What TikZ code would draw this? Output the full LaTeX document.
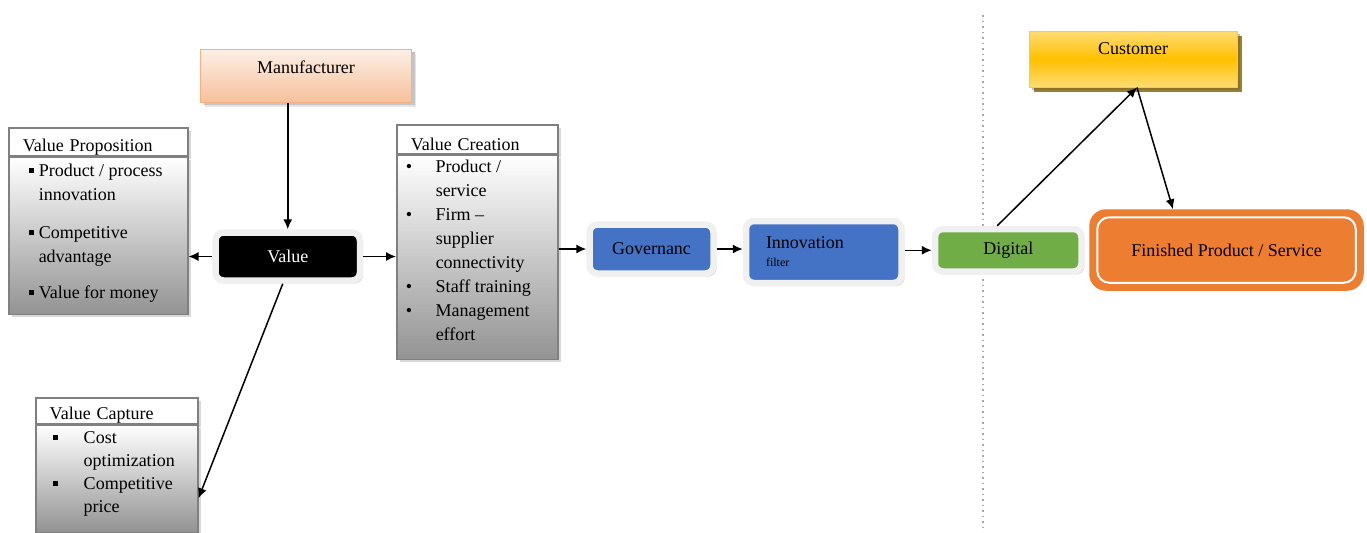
\documentclass[tikz,border=0pt]{standalone}
\usepackage{fontspec}
\setmainfont{Liberation Serif}
\usetikzlibrary{positioning,arrows.meta,shadows}
\tikzset{>={Latex[length=5pt,width=4.5pt]}}
\definecolor{peach}{HTML}{F4B183}
\definecolor{blu}{HTML}{4472C4}
\definecolor{grn}{HTML}{70AD47}
\definecolor{orng}{HTML}{ED7D31}
\definecolor{yel}{HTML}{FFC000}
\newcommand{\sqb}{\rule[1.8pt]{2.6pt}{2.6pt}}

\begin{document}
\begin{tikzpicture}[x=0.5pt, y=-0.5pt, font=\fontsize{9}{12}\selectfont, line width=0.75pt,
    head/.style={draw=gray, fill=white, inner xsep=7pt, inner ysep=0pt, align=left, anchor=north west,
      text height=11.5pt, drop shadow={shadow xshift=1.5pt, shadow yshift=-1.5pt, fill=gray!60}},
    listbody/.style={draw=gray, top color=white, bottom color=gray!85, inner sep=0pt,
      drop shadow={shadow xshift=1.5pt, shadow yshift=-1.5pt, fill=gray!60}},
    framed/.style={draw=gray!12, line width=3.25pt, rounded corners=4pt, inner sep=0pt,
      drop shadow={shadow xshift=1.5pt, shadow yshift=-1.5pt, fill=gray!55}},
    plain/.style={line width=0.5pt, inner sep=0pt, drop shadow={shadow xshift=1.5pt, shadow yshift=-1.5pt}}]
  \useasboundingbox (0,0) rectangle (1367,532);
  \draw[gray!70, dotted] (983,15) -- (983,532); %divider

  \node[plain, draw=peach, top color=peach!20, bottom color=peach!80, drop shadow={fill=gray!40},
    minimum width=105.5pt, minimum height=26.5pt, text depth=8pt] (man) at (306,75.5) {Manufacturer};

  \node[head, text width=75.5pt, minimum height=14pt] (vph) at (8,127) {Value Proposition};
  \node[listbody, minimum width=89.5pt, minimum height=78.5pt, below=0pt of vph] (vp)
    {\begin{tabular}{@{\hspace{10pt}}p{5pt}@{}p{74.5pt}@{}}
      \sqb & Product / process\\
           & innovation\\[7pt]
      \sqb & Competitive\\
           & advantage\\[6pt]
      \sqb & Value for money\\[3pt]
    \end{tabular}};

  \node[framed, fill=black, text=white, minimum width=72.25pt, minimum height=24pt] (val) at (287.75,256.5) {Value};

  \node[head, text width=66.5pt, minimum height=14.5pt] (vch) at (396,124) {Value Creation};
  \node[listbody, minimum width=80.5pt, minimum height=102pt, below=0pt of vch] (vc)
    {\begin{tabular}{@{\hspace{4.5pt}}p{15pt}@{}p{61pt}@{}}
      \textbullet & Product /\\
                  & service\\
      \textbullet & Firm --\\
                  & supplier\\
                  & connectivity\\
      \textbullet & Staff training\\
      \textbullet & Management\\
                  & effort\\[6pt]
    \end{tabular}};

  \node[head, text width=67pt, minimum height=13pt, text height=10.5pt] (vcaph) at (35,397) {Value Capture};
  \node[listbody, minimum width=81pt, minimum height=53.5pt, below=0pt of vcaph,
    font=\fontsize{9}{11.5}\selectfont] (vcap)
    {\begin{tabular}{@{\hspace{8.5pt}}p{15.5pt}@{}p{57pt}@{}}
      \sqb & Cost\\
           & optimization\\
      \sqb & Competitive\\
           & price\\[5pt]
    \end{tabular}};

  \node[framed, fill=blu, minimum width=62pt, minimum height=24.5pt] (gov) at (651.5,249) {Governanc};
  \node[framed, fill=blu, minimum width=77.75pt, minimum height=31pt, text width=57.75pt, align=left,
    inner xsep=10pt] (inn) at (823.75,252) {Innovation\\[-3pt]{\fontsize{6}{6}\selectfont filter}};
  \node[framed, fill=grn, minimum width=73.25pt, minimum height=21.25pt] (dig) at (1008.25,250.25) {Digital};

  \node[plain, draw=yel!80, top color=yel!55, bottom color=yel!55, middle color=yel,
    drop shadow={fill=yel!50!black, opacity=0.8}, minimum width=104pt, minimum height=28pt,
    text depth=10.5pt] (cus) at (1133,59) {Customer};
  \node[draw=orng, fill=orng, rounded corners=8pt, minimum width=136.5pt, minimum height=40pt] (fin)
    at (1226.5,250) {Finished Product / Service};
  \draw[white, line width=1pt, rounded corners=6pt] ([shift={(4pt,-4pt)}]fin.north west)
    rectangle ([shift={(-4pt,4pt)}]fin.south east);

  \draw[->] (man.south -| val.north) -- (val.north);
  \draw[->] (val.west) -- (vp.east |- val.west);
  \draw[->] (val.east) -- (vc.west |- val.east);
  \draw[->] ([xshift=-2.5pt]val.south) -- ([yshift=-9.75pt]vcap.east);
  \draw[->] (vc.east |- gov.west) -- (gov.west);
  \draw[->] (gov.east) -- (inn.west |- gov.east);
  \draw[->] (inn.east |- dig.west) -- (dig.west);
  \draw[->] ([xshift=-5.5pt]dig.north) -- ([xshift=2pt]cus.south);
  \draw[->] ([xshift=2pt]cus.south) -- ([xshift=-26.75pt]fin.north);
\end{tikzpicture}
\end{document}
